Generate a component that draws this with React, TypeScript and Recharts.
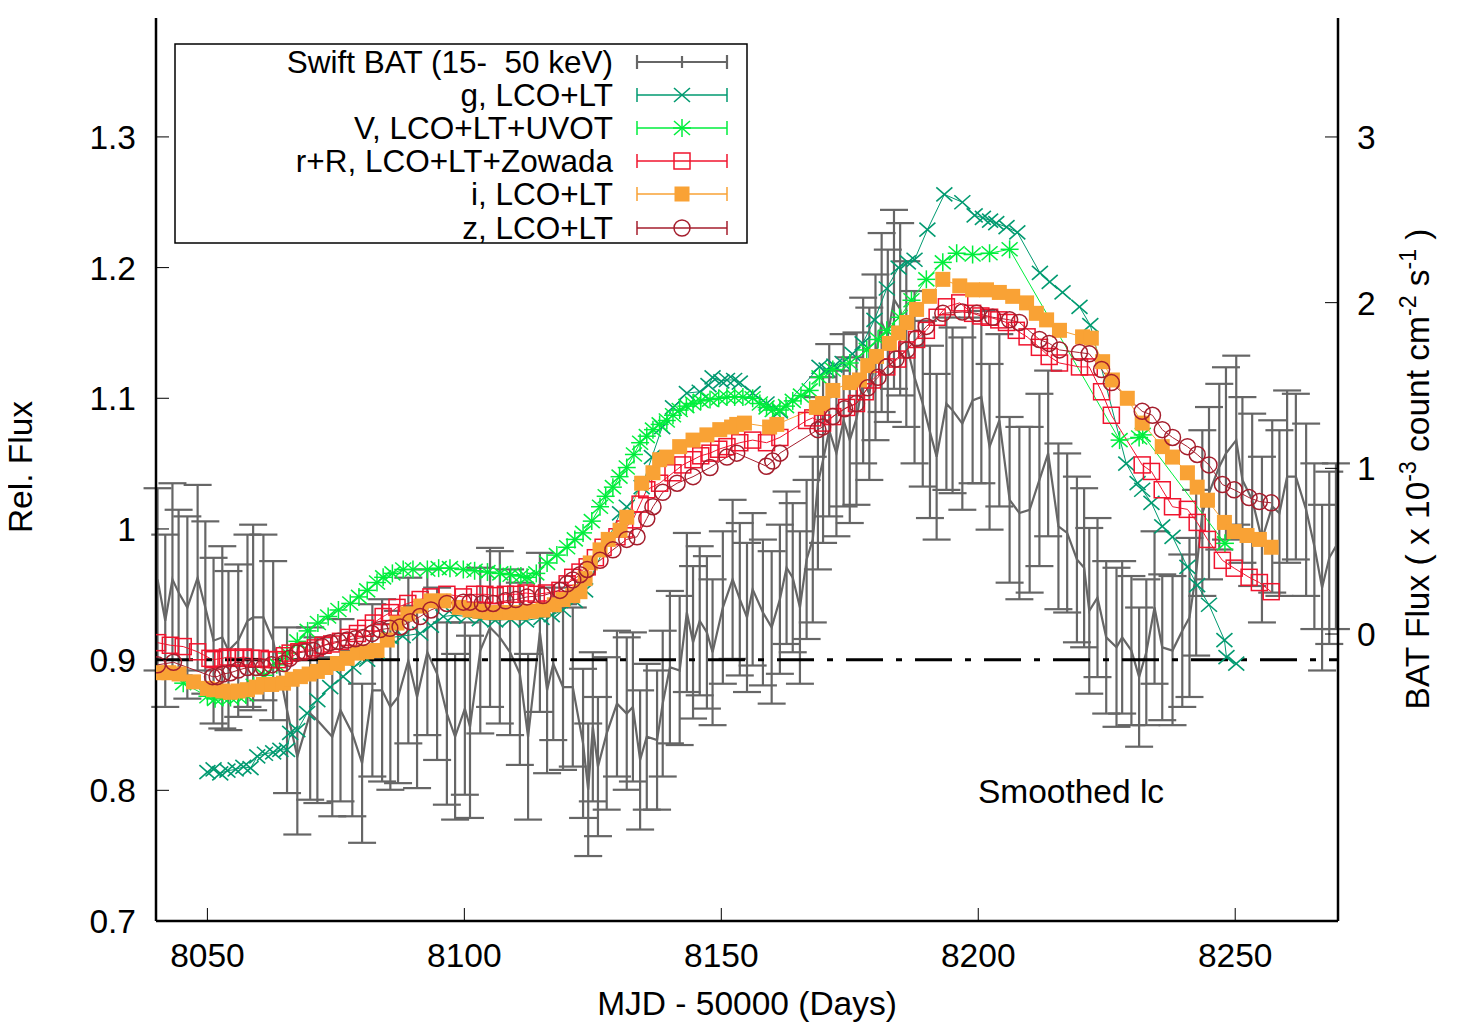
import React from 'react';
import { ComposedChart, Line, XAxis, YAxis, ErrorBar, ReferenceLine } from 'recharts';

const FONT = '"Liberation Sans", Arial, Helvetica, sans-serif';
const FS = 33.5;
const FS_LEG = 31.5;

// ---------- data ----------
const xTicks = [8050, 8100, 8150, 8200, 8250];
const yTicks = [0.7, 0.8, 0.9, 1.0, 1.1, 1.2, 1.3];
const y2Ticks = [0, 1, 2, 3];

// Swift BAT: [MJD-50000, flux (1e-3 count cm^-2 s^-1), error]
const batPts: [number, number, number][] = [
  [8040.3, 0.33, 0.55], [8041.8, 0.08, 0.52], [8043.2, 0.33, 0.58], [8044.4, 0.25, 0.5],
  [8046.1, 0.16, 0.55], [8048.1, 0.34, 0.56], [8049.6, 0.16, 0.52], [8051.2, -0.04, 0.5],
  [8052.9, -0.02, 0.55], [8054.1, -0.1, 0.48], [8056.0, -0.04, 0.46], [8057.8, 0.08, 0.52],
  [8058.9, 0.1, 0.56], [8060.9, 0.1, 0.5], [8062.8, -0.04, 0.48], [8065.5, -0.46, 0.5],
  [8067.5, -0.74, 0.47], [8070.0, -0.48, 0.52], [8071.4, -0.52, 0.5], [8074.3, -0.62, 0.48],
  [8075.9, -0.46, 0.55], [8078.2, -0.6, 0.5], [8080.1, -0.78, 0.48], [8082.1, -0.34, 0.52],
  [8084.0, -0.34, 0.55], [8085.6, -0.44, 0.5], [8087.1, -0.38, 0.52], [8089.1, -0.16, 0.5],
  [8090.8, -0.38, 0.55], [8092.8, -0.11, 0.5], [8094.7, -0.24, 0.52], [8096.6, -0.48, 0.55],
  [8098.2, -0.62, 0.5], [8100.1, -0.45, 0.52], [8101.1, -0.56, 0.55], [8103.1, -0.1, 0.5],
  [8105.0, 0.04, 0.48], [8106.9, -0.02, 0.52], [8108.9, -0.11, 0.5], [8110.8, -0.24, 0.55],
  [8112.4, -0.62, 0.5], [8114.7, 0.01, 0.48], [8116.1, -0.34, 0.5], [8117.3, -0.18, 0.46],
  [8119.2, -0.32, 0.5], [8121.1, -0.32, 0.48], [8123.1, -0.66, 0.45], [8124.1, -0.94, 0.4],
  [8125.0, -0.56, 0.45], [8126.0, -0.8, 0.42], [8127.7, -0.6, 0.46], [8129.7, -0.42, 0.44],
  [8131.6, -0.48, 0.46], [8132.8, -0.44, 0.45], [8134.2, -0.76, 0.42], [8135.5, -0.62, 0.44],
  [8137.5, -0.64, 0.42], [8138.6, -0.42, 0.44], [8140.0, -0.2, 0.46], [8141.9, -0.22, 0.45],
  [8143.3, 0.13, 0.48], [8144.5, -0.05, 0.46], [8145.8, 0.08, 0.45], [8147.2, 0.01, 0.46],
  [8148.3, -0.11, 0.44], [8150.3, 0.16, 0.46], [8152.2, 0.33, 0.48], [8153.6, 0.21, 0.46],
  [8155.0, 0.1, 0.45], [8156.1, 0.27, 0.46], [8158.1, 0.13, 0.44], [8159.8, 0.04, 0.46],
  [8161.4, 0.21, 0.45], [8162.7, 0.4, 0.46], [8163.9, 0.34, 0.45], [8165.3, 0.16, 0.46],
  [8166.6, 0.45, 0.48], [8167.8, 0.57, 0.5], [8168.8, 0.91, 0.52], [8169.8, 1.05, 0.5],
  [8171.0, 1.23, 0.52], [8172.4, 1.09, 0.5], [8173.8, 1.29, 0.52], [8175.0, 1.17, 0.5],
  [8176.3, 1.3, 0.52], [8177.6, 1.53, 0.5], [8178.8, 1.45, 0.52], [8180.0, 1.67, 0.5],
  [8181.2, 1.88, 0.54], [8182.4, 1.8, 0.52], [8183.6, 2.02, 0.54], [8184.8, 1.96, 0.52],
  [8186.0, 1.75, 0.5], [8187.6, 1.55, 0.52], [8189.2, 1.39, 0.5], [8190.6, 1.22, 0.52],
  [8191.9, 1.07, 0.5], [8193.8, 1.39, 0.52], [8195.0, 1.35, 0.5], [8196.9, 1.27, 0.52],
  [8198.9, 1.41, 0.5], [8200.6, 1.43, 0.52], [8202.2, 1.13, 0.5], [8204.1, 1.29, 0.52],
  [8206.1, 0.81, 0.5], [8208.0, 0.73, 0.52], [8210.0, 0.75, 0.5], [8211.9, 0.93, 0.52],
  [8213.6, 1.09, 0.5], [8215.6, 0.65, 0.5], [8217.3, 0.61, 0.48], [8219.2, 0.45, 0.5],
  [8220.6, 0.4, 0.48], [8221.6, 0.14, 0.5], [8223.2, 0.22, 0.48], [8224.9, -0.02, 0.46],
  [8226.9, -0.08, 0.48], [8228.0, -0.02, 0.46], [8229.8, -0.1, 0.45], [8231.3, -0.26, 0.42],
  [8232.7, -0.11, 0.44], [8234.3, 0.16, 0.46], [8235.8, -0.08, 0.44], [8237.8, -0.1, 0.45],
  [8239.7, 0.02, 0.46], [8241.1, 0.1, 0.48], [8242.4, 0.37, 0.5], [8243.6, 0.73, 0.5],
  [8244.9, 0.85, 0.52], [8246.9, 1.01, 0.5], [8248.2, 1.09, 0.52], [8250.2, 1.17, 0.51],
  [8251.4, 0.93, 0.5], [8253.3, 0.81, 0.52], [8255.2, 0.57, 0.5], [8257.2, 0.77, 0.52],
  [8258.6, 0.73, 0.5], [8260.1, 0.95, 0.52], [8261.8, 0.95, 0.5], [8263.8, 0.75, 0.52],
  [8265.4, 0.53, 0.5], [8266.9, 0.28, 0.5], [8268.3, 0.46, 0.52], [8269.6, 0.53, 0.5],
];

// g, LCO+LT
const gPts: [number, number][] = [
  [8050.0, 0.814], [8051.2, 0.816], [8052.5, 0.813], [8053.9, 0.815], [8055.5, 0.816],
  [8057.0, 0.818], [8058.4, 0.817], [8059.7, 0.826], [8061.2, 0.828], [8062.8, 0.829],
  [8064.2, 0.831], [8065.5, 0.831], [8066.1, 0.844], [8067.5, 0.846], [8069.4, 0.859],
  [8071.4, 0.869], [8073.9, 0.879], [8076.4, 0.887], [8078.4, 0.894], [8081.1, 0.9],
  [8083.0, 0.906], [8085.6, 0.917], [8088.0, 0.918], [8091.4, 0.92], [8093.5, 0.926],
  [8095.9, 0.933], [8098.0, 0.934], [8100.5, 0.933], [8103.0, 0.931], [8106.0, 0.93],
  [8109.0, 0.931], [8112.0, 0.93], [8115.0, 0.932], [8117.0, 0.934], [8119.2, 0.938],
  [8121.5, 0.945], [8123.5, 0.953], [8130.3, 1.012], [8131.6, 1.017], [8134.5, 1.032],
  [8136.5, 1.055], [8138.5, 1.078], [8140.6, 1.093], [8143.3, 1.104], [8145.8, 1.105],
  [8147.5, 1.11], [8148.3, 1.116], [8150.0, 1.113], [8151.1, 1.114], [8152.5, 1.114],
  [8153.6, 1.112], [8156.1, 1.104], [8158.8, 1.096], [8161.4, 1.09], [8169.1, 1.124],
  [8170.5, 1.122], [8172.0, 1.125], [8173.6, 1.127], [8175.5, 1.134], [8177.5, 1.142],
  [8179.8, 1.16], [8182.2, 1.184], [8184.5, 1.2], [8186.3, 1.204], [8187.6, 1.206],
  [8190.1, 1.229], [8193.4, 1.256], [8196.9, 1.25], [8199.3, 1.24], [8200.9, 1.238],
  [8202.3, 1.236], [8203.5, 1.234], [8205.5, 1.231], [8207.6, 1.227], [8212.0, 1.196],
  [8213.9, 1.189], [8216.4, 1.181], [8219.7, 1.17], [8221.8, 1.156], [8228.8, 1.05],
  [8231.0, 1.035], [8231.9, 1.03], [8233.7, 1.02], [8235.8, 1.002], [8237.8, 0.994],
  [8240.7, 0.971], [8242.6, 0.957], [8244.9, 0.942], [8247.9, 0.915], [8248.3, 0.902],
  [8250.2, 0.897],
];

// V, LCO+LT+UVOT
const vPts: [number, number][] = [
  [8045.3, 0.882], [8050.0, 0.872], [8051.5, 0.87], [8053.0, 0.871], [8054.5, 0.871],
  [8056.0, 0.872], [8057.5, 0.873], [8059.0, 0.88], [8061.0, 0.888], [8063.5, 0.896],
  [8065.5, 0.905], [8067.5, 0.914], [8069.5, 0.922], [8071.5, 0.928], [8073.5, 0.933],
  [8075.5, 0.938], [8077.8, 0.943], [8079.5, 0.948], [8081.1, 0.953], [8083.0, 0.959],
  [8084.2, 0.963], [8086.0, 0.966], [8088.1, 0.969], [8090.0, 0.969], [8092.8, 0.969],
  [8095.0, 0.97], [8097.2, 0.97], [8099.8, 0.969], [8102.0, 0.968], [8104.5, 0.967],
  [8107.0, 0.966], [8109.0, 0.965], [8111.0, 0.964], [8112.2, 0.963], [8114.0, 0.966],
  [8116.1, 0.974], [8118.0, 0.98], [8120.0, 0.986], [8121.5, 0.992], [8123.1, 0.997],
  [8124.8, 1.006], [8126.4, 1.017], [8127.5, 1.025], [8128.9, 1.032], [8130.2, 1.04],
  [8131.6, 1.047], [8133.0, 1.057], [8134.2, 1.066], [8135.5, 1.071], [8136.7, 1.076],
  [8138.0, 1.08], [8139.4, 1.083], [8140.6, 1.087], [8141.9, 1.091], [8143.2, 1.094],
  [8144.5, 1.096], [8146.0, 1.098], [8147.8, 1.099], [8149.5, 1.1], [8151.1, 1.101],
  [8152.6, 1.101], [8154.2, 1.101], [8156.1, 1.1], [8157.5, 1.096], [8158.8, 1.093],
  [8160.0, 1.091], [8161.4, 1.091], [8162.6, 1.094], [8163.9, 1.098], [8165.5, 1.102],
  [8167.2, 1.106], [8169.1, 1.116], [8171.7, 1.122], [8175.0, 1.127], [8178.3, 1.137],
  [8180.5, 1.145], [8182.2, 1.152], [8184.7, 1.162], [8187.0, 1.175], [8189.9, 1.191],
  [8193.1, 1.204], [8195.8, 1.211], [8198.9, 1.21], [8202.2, 1.211], [8206.1, 1.214],
  [8227.5, 1.068], [8231.3, 1.07], [8232.0, 1.072], [8248.0, 0.989],
];

// r+R, LCO+LT+Zowada
const rPts: [number, number][] = [
  [8040.3, 0.913], [8042.8, 0.911], [8045.3, 0.91], [8048.1, 0.906], [8050.5, 0.901],
  [8051.2, 0.9], [8053.0, 0.901], [8053.9, 0.902], [8055.5, 0.901], [8057.0, 0.902],
  [8058.5, 0.901], [8060.3, 0.901], [8062.0, 0.9], [8063.6, 0.9], [8065.0, 0.903],
  [8066.1, 0.905], [8067.8, 0.906], [8069.4, 0.907], [8071.0, 0.909], [8072.5, 0.911],
  [8074.2, 0.912], [8075.9, 0.914], [8077.5, 0.917], [8079.2, 0.92], [8080.8, 0.924],
  [8082.3, 0.928], [8084.2, 0.933], [8085.6, 0.936], [8086.9, 0.94], [8089.0, 0.943],
  [8091.4, 0.946], [8093.5, 0.948], [8096.6, 0.95], [8099.8, 0.948], [8102.0, 0.95],
  [8104.0, 0.95], [8106.0, 0.949], [8108.0, 0.95], [8110.0, 0.95], [8112.0, 0.951],
  [8114.0, 0.95], [8116.0, 0.951], [8118.6, 0.953], [8120.0, 0.958], [8121.1, 0.963],
  [8122.5, 0.967], [8123.9, 0.971], [8125.5, 0.978], [8127.0, 0.986], [8129.7, 0.994],
  [8131.2, 1.0], [8132.8, 1.007], [8134.2, 1.019], [8135.5, 1.03], [8138.0, 1.035],
  [8140.6, 1.043], [8142.5, 1.049], [8144.5, 1.053], [8146.0, 1.056], [8147.8, 1.058],
  [8149.5, 1.061], [8151.1, 1.063], [8153.6, 1.066], [8156.1, 1.068], [8158.8, 1.066],
  [8161.4, 1.07], [8166.6, 1.083], [8167.8, 1.085], [8169.7, 1.081], [8171.7, 1.086],
  [8174.4, 1.093], [8176.3, 1.096], [8178.0, 1.105], [8179.4, 1.114], [8182.2, 1.124],
  [8184.3, 1.13], [8186.1, 1.137], [8188.0, 1.145], [8189.9, 1.152], [8192.0, 1.162],
  [8193.8, 1.17], [8196.4, 1.173], [8198.9, 1.165], [8200.5, 1.163], [8202.2, 1.162],
  [8204.0, 1.16], [8205.5, 1.158], [8207.4, 1.152], [8209.5, 1.147], [8211.9, 1.139],
  [8213.8, 1.132], [8215.8, 1.127], [8219.7, 1.124], [8221.6, 1.124], [8224.0, 1.105],
  [8225.9, 1.087], [8231.9, 1.049], [8233.7, 1.044], [8235.8, 1.03], [8237.8, 1.017],
  [8240.7, 1.015], [8242.6, 1.005], [8244.6, 0.992], [8247.5, 0.976], [8249.8, 0.97],
  [8252.7, 0.963], [8254.7, 0.959], [8257.0, 0.952],
];

// i, LCO+LT
const iPts: [number, number][] = [
  [8040.3, 0.89], [8042.5, 0.89], [8044.5, 0.889], [8047.3, 0.883], [8050.0, 0.878],
  [8051.2, 0.877], [8053.0, 0.876], [8054.5, 0.875], [8056.0, 0.876], [8057.8, 0.877],
  [8059.5, 0.879], [8060.9, 0.881], [8062.5, 0.881], [8064.8, 0.882], [8066.5, 0.885],
  [8068.1, 0.887], [8069.8, 0.889], [8071.4, 0.891], [8073.0, 0.894], [8075.3, 0.897],
  [8077.2, 0.901], [8079.2, 0.905], [8081.0, 0.906], [8083.0, 0.907], [8085.0, 0.915],
  [8086.9, 0.928], [8089.0, 0.935], [8091.5, 0.941], [8093.5, 0.945], [8096.0, 0.945],
  [8099.0, 0.94], [8101.1, 0.938], [8103.0, 0.937], [8105.0, 0.936], [8107.0, 0.936],
  [8108.9, 0.936], [8111.0, 0.936], [8113.0, 0.937], [8115.3, 0.938], [8117.5, 0.942],
  [8119.2, 0.946], [8121.1, 0.949], [8122.5, 0.952], [8123.5, 0.962], [8124.5, 0.974],
  [8126.4, 0.984], [8128.0, 0.992], [8130.3, 0.999], [8131.6, 1.009], [8134.5, 1.035],
  [8136.7, 1.043], [8138.0, 1.053], [8139.4, 1.055], [8141.9, 1.063], [8144.5, 1.068],
  [8147.2, 1.072], [8149.7, 1.076], [8152.0, 1.078], [8153.0, 1.08], [8154.5, 1.081],
  [8159.4, 1.078], [8160.8, 1.08], [8168.5, 1.093], [8169.7, 1.096], [8171.7, 1.106],
  [8175.0, 1.112], [8176.9, 1.114], [8178.5, 1.125], [8180.2, 1.132], [8182.7, 1.142],
  [8184.5, 1.15], [8186.1, 1.158], [8188.0, 1.168], [8190.5, 1.178], [8193.1, 1.191],
  [8196.4, 1.186], [8198.9, 1.183], [8201.6, 1.183], [8204.1, 1.181], [8206.7, 1.178],
  [8209.4, 1.173], [8211.3, 1.165], [8213.3, 1.16], [8215.8, 1.152], [8220.3, 1.147],
  [8222.0, 1.146], [8224.2, 1.128], [8226.1, 1.114], [8229.0, 1.1], [8231.9, 1.081],
  [8235.8, 1.063], [8237.8, 1.055], [8240.7, 1.043], [8242.6, 1.032], [8244.6, 1.022],
  [8247.9, 1.005], [8249.8, 0.998], [8252.3, 0.995], [8254.7, 0.992], [8257.0, 0.986],
];

// z, LCO+LT
const zPts: [number, number][] = [
  [8040.3, 0.896], [8043.4, 0.898], [8051.0, 0.887], [8051.9, 0.887], [8053.0, 0.889],
  [8054.5, 0.89], [8056.0, 0.892], [8057.8, 0.894], [8059.5, 0.894], [8060.9, 0.894],
  [8062.5, 0.896], [8064.8, 0.897], [8066.0, 0.901], [8067.5, 0.905], [8069.0, 0.906],
  [8070.6, 0.907], [8072.3, 0.91], [8073.9, 0.913], [8075.5, 0.914], [8077.2, 0.915],
  [8078.8, 0.916], [8080.3, 0.917], [8082.0, 0.92], [8083.6, 0.923], [8085.5, 0.924],
  [8087.5, 0.925], [8089.5, 0.929], [8091.4, 0.933], [8093.5, 0.938], [8096.6, 0.943],
  [8099.8, 0.944], [8101.1, 0.944], [8103.5, 0.943], [8105.6, 0.943], [8108.0, 0.945],
  [8110.0, 0.946], [8112.2, 0.948], [8115.3, 0.949], [8118.6, 0.953], [8120.0, 0.958],
  [8121.1, 0.961], [8122.5, 0.965], [8123.9, 0.969], [8126.4, 0.976], [8128.9, 0.984],
  [8131.6, 0.992], [8133.6, 0.994], [8135.5, 1.008], [8136.7, 1.017], [8138.6, 1.028],
  [8141.4, 1.035], [8144.5, 1.04], [8147.8, 1.047], [8151.1, 1.055], [8153.0, 1.058],
  [8158.8, 1.048], [8160.0, 1.052], [8161.4, 1.058], [8168.8, 1.076], [8169.7, 1.078],
  [8171.7, 1.086], [8174.0, 1.092], [8176.3, 1.096], [8178.5, 1.108], [8180.5, 1.116],
  [8182.2, 1.124], [8184.0, 1.13], [8186.1, 1.137], [8188.0, 1.146], [8189.9, 1.155],
  [8193.1, 1.165], [8196.9, 1.166], [8199.7, 1.165], [8202.8, 1.162], [8206.1, 1.16],
  [8208.0, 1.158], [8211.9, 1.145], [8213.8, 1.142], [8215.8, 1.137], [8219.7, 1.135],
  [8221.6, 1.134], [8224.0, 1.122], [8225.9, 1.112], [8231.9, 1.09], [8233.9, 1.087],
  [8235.8, 1.076], [8237.8, 1.07], [8240.7, 1.063], [8242.6, 1.057], [8244.9, 1.049],
  [8247.5, 1.034], [8249.8, 1.03], [8252.7, 1.024], [8254.7, 1.021], [8257.0, 1.02],
];

const baseline = 0.9;

const batData = batPts.map(([x, b, e]) => ({ x, b, e }));
const toXY = (pts: [number, number][]) => pts.map(([x, y]) => ({ x, y }));
const gData = toXY(gPts);
const vData = toXY(vPts);
const rData = toXY(rPts);
const iData = toXY(iPts);
const zData = toXY(zPts);

// ---------- layout ----------
const W = 1441;
const H = 1016;
const PLOT_LEFT = 148;
const PLOT_RIGHT = 1330;
const PLOT_TOP = 10;
const PLOT_BOTTOM = 913;
const TICK_LEN = 13;

// ---------- styles ----------
const C_BAT = '#666666';
const C_G = '#009a70';
const C_V = '#00ee3c';
const C_R = '#f0142e';
const C_I = '#f9a235';
const C_Z = '#a51e2d';

const XMark = ({ cx, cy, color }: any) => (
  <g stroke={color} strokeWidth={1.6} fill="none">
    <line x1={cx - 8} y1={cy - 7} x2={cx + 8} y2={cy + 7} />
    <line x1={cx - 8} y1={cy + 7} x2={cx + 8} y2={cy - 7} />
  </g>
);
const StarMark = ({ cx, cy, color }: any) => (
  <g stroke={color} strokeWidth={1.5} fill="none">
    <line x1={cx - 8} y1={cy - 7} x2={cx + 8} y2={cy + 7} />
    <line x1={cx - 8} y1={cy + 7} x2={cx + 8} y2={cy - 7} />
    <line x1={cx - 9} y1={cy} x2={cx + 9} y2={cy} />
    <line x1={cx} y1={cy - 9} x2={cx} y2={cy + 9} />
  </g>
);
const OpenSq = ({ cx, cy, color }: any) => (
  <rect x={cx - 8} y={cy - 8} width={16} height={16} fill="none" stroke={color} strokeWidth={1.5} />
);
const FillSq = ({ cx, cy, color }: any) => (
  <rect x={cx - 7.5} y={cy - 7.5} width={15} height={15} fill={color} stroke="none" />
);
const OpenCirc = ({ cx, cy, color }: any) => (
  <circle cx={cx} cy={cy} r={8} fill="none" stroke={color} strokeWidth={1.5} />
);

const dotOf = (M: any, color: string) => (p: any) => {
  if (p.cx == null || p.cy == null) return <g key={p.index} />;
  return <M key={p.index} cx={p.cx} cy={p.cy} color={color} />;
};

const fmtY = (v: number) => String(Math.round(v * 10) / 10);

const XTick = (p: any) => (
  <g>
    <line x1={p.x} x2={p.x} y1={PLOT_BOTTOM} y2={PLOT_BOTTOM - TICK_LEN} stroke="#000" strokeWidth={1} />
    <text x={p.x} y={959} textAnchor="middle" fontSize={FS} fontFamily={FONT} fill="#000">
      {p.payload.value}
    </text>
  </g>
);
const TopTick = (p: any) => (
  <line x1={p.x} x2={p.x} y1={PLOT_TOP} y2={PLOT_TOP + TICK_LEN} stroke="#000" strokeWidth={1} />
);
const YTick = (p: any) => (
  <g>
    <line x1={PLOT_LEFT} x2={PLOT_LEFT + TICK_LEN} y1={p.y} y2={p.y} stroke="#000" strokeWidth={1} />
    <text x={128} y={p.y} dy="0.36em" textAnchor="end" fontSize={FS} fontFamily={FONT} fill="#000">
      {fmtY(p.payload.value)}
    </text>
  </g>
);
const Y2Tick = (p: any) => (
  <g>
    <line x1={PLOT_RIGHT} x2={PLOT_RIGHT - TICK_LEN} y1={p.y} y2={p.y} stroke="#000" strokeWidth={1} />
    <text x={1349} y={p.y} dy="0.36em" textAnchor="start" fontSize={FS} fontFamily={FONT} fill="#000">
      {p.payload.value}
    </text>
  </g>
);

const legendRows = [
  { label: 'Swift BAT (15‐ \u00a050 keV)', color: C_BAT, M: null as any },
  { label: 'g, LCO+LT', color: C_G, M: XMark },
  { label: 'V, LCO+LT+UVOT', color: C_V, M: StarMark },
  { label: 'r+R, LCO+LT+Zowada', color: C_R, M: OpenSq },
  { label: 'i, LCO+LT', color: C_I, M: FillSq },
  { label: 'z, LCO+LT', color: C_Z, M: OpenCirc },
];
const legendY = [54, 87, 120, 153, 186, 220];

export default function App() {
  return (
    <div style={{ position: 'relative', width: W, height: H }}>
      <ComposedChart width={W} height={H} margin={{ top: PLOT_TOP, right: 0, bottom: 0, left: 0 }}>
        <XAxis
          xAxisId="top"
          orientation="top"
          type="number"
          dataKey="x"
          domain={[8040, 8270]}
          allowDataOverflow
          ticks={xTicks}
          height={0}
          tick={<TopTick />}
          tickLine={false}
          axisLine={{ stroke: '#000', strokeWidth: 2.5 }}
        />
        <XAxis
          type="number"
          dataKey="x"
          domain={[8040, 8270]}
          allowDataOverflow
          ticks={xTicks}
          height={H - PLOT_BOTTOM}
          tick={<XTick />}
          tickLine={false}
          axisLine={{ stroke: '#000', strokeWidth: 2.5 }}
        />
        <YAxis
          yAxisId="left"
          type="number"
          dataKey="y"
          domain={[0.7, 1.391]}
          allowDataOverflow
          ticks={yTicks}
          width={PLOT_LEFT}
          tick={<YTick />}
          tickLine={false}
          axisLine={{ stroke: '#000', strokeWidth: 2.5 }}
        />
        <YAxis
          yAxisId="right"
          orientation="right"
          type="number"
          domain={[-1.732, 3.718]}
          allowDataOverflow
          ticks={y2Ticks}
          width={W - PLOT_RIGHT}
          tick={<Y2Tick />}
          tickLine={false}
          axisLine={{ stroke: '#000', strokeWidth: 2.5 }}
        />

        <Line
          yAxisId="right"
          data={batData}
          dataKey="b"
          type="linear"
          stroke={C_BAT}
          strokeWidth={2.2}
          dot={false}
          activeDot={false}
          isAnimationActive={false}
        >
          <ErrorBar dataKey="e" direction="y" width={14} stroke={C_BAT} strokeWidth={2.2} />
        </Line>

        <Line yAxisId="left" data={gData} dataKey="y" type="linear" stroke={C_G} strokeWidth={1}
          dot={dotOf(XMark, C_G)} activeDot={false} isAnimationActive={false} />
        <Line yAxisId="left" data={vData} dataKey="y" type="linear" stroke={C_V} strokeWidth={1}
          dot={dotOf(StarMark, C_V)} activeDot={false} isAnimationActive={false} />
        <Line yAxisId="left" data={rData} dataKey="y" type="linear" stroke={C_R} strokeWidth={1}
          dot={dotOf(OpenSq, C_R)} activeDot={false} isAnimationActive={false} />
        <Line yAxisId="left" data={iData} dataKey="y" type="linear" stroke={C_I} strokeWidth={1}
          dot={dotOf(FillSq, C_I)} activeDot={false} isAnimationActive={false} />
        <Line yAxisId="left" data={zData} dataKey="y" type="linear" stroke={C_Z} strokeWidth={1}
          dot={dotOf(OpenCirc, C_Z)} activeDot={false} isAnimationActive={false} />

        <ReferenceLine
          yAxisId="left"
          y={baseline}
          stroke="#000"
          strokeWidth={3}
          strokeDasharray="37 13 6 13"
          ifOverflow="hidden"
        />
      </ComposedChart>

      <svg
        width={W}
        height={H}
        style={{ position: 'absolute', left: 0, top: 0, pointerEvents: 'none', overflow: 'visible' }}
        fontFamily={FONT}
      >
        {/* legend */}
        <rect x={167} y={36} width={572} height={199} fill="#fff" stroke="#000" strokeWidth={1.5} />
        {legendRows.map((r, k) => {
          const y = legendY[k];
          const sw = k === 0 ? 2.2 : 1.5;
          return (
            <g key={r.label}>
              <text x={605} y={y} dy="0.36em" textAnchor="end" fontSize={FS_LEG} fill="#000" style={{ whiteSpace: 'pre' }}>
                {r.label}
              </text>
              <line x1={629} y1={y} x2={719} y2={y} stroke={r.color} strokeWidth={sw} />
              <line x1={629} y1={y - 7} x2={629} y2={y + 7} stroke={r.color} strokeWidth={sw} />
              <line x1={719} y1={y - 7} x2={719} y2={y + 7} stroke={r.color} strokeWidth={sw} />
              {k === 0 ? (
                <line x1={674} y1={y - 6} x2={674} y2={y + 6} stroke={r.color} strokeWidth={2.2} />
              ) : (
                <r.M cx={674} cy={y} color={r.color} />
              )}
            </g>
          );
        })}

        <text x={1063} y={783} dy="0.36em" textAnchor="middle" fontSize={FS} fill="#000">
          Smoothed lc
        </text>

        {/* axis titles */}
        <text x={739} y={1007} textAnchor="middle" fontSize={FS} fill="#000">
          MJD - 50000 (Days)
        </text>
        <text x={0} y={0} transform="translate(24 459) rotate(-90)" textAnchor="middle" fontSize={FS} fill="#000">
          Rel. Flux
        </text>
        <text x={0} y={0} transform="translate(1421 461) rotate(-90)" textAnchor="middle" fontSize={FS} fill="#000">
          <tspan>BAT Flux ( x 10</tspan>
          <tspan dy={-13} fontSize={23}>-3</tspan>
          <tspan dy={13}> count cm</tspan>
          <tspan dy={-13} fontSize={23}>-2</tspan>
          <tspan dy={13}> s</tspan>
          <tspan dy={-13} fontSize={23}>-1</tspan>
          <tspan dy={13}> )</tspan>
        </text>
      </svg>
    </div>
  );
}
